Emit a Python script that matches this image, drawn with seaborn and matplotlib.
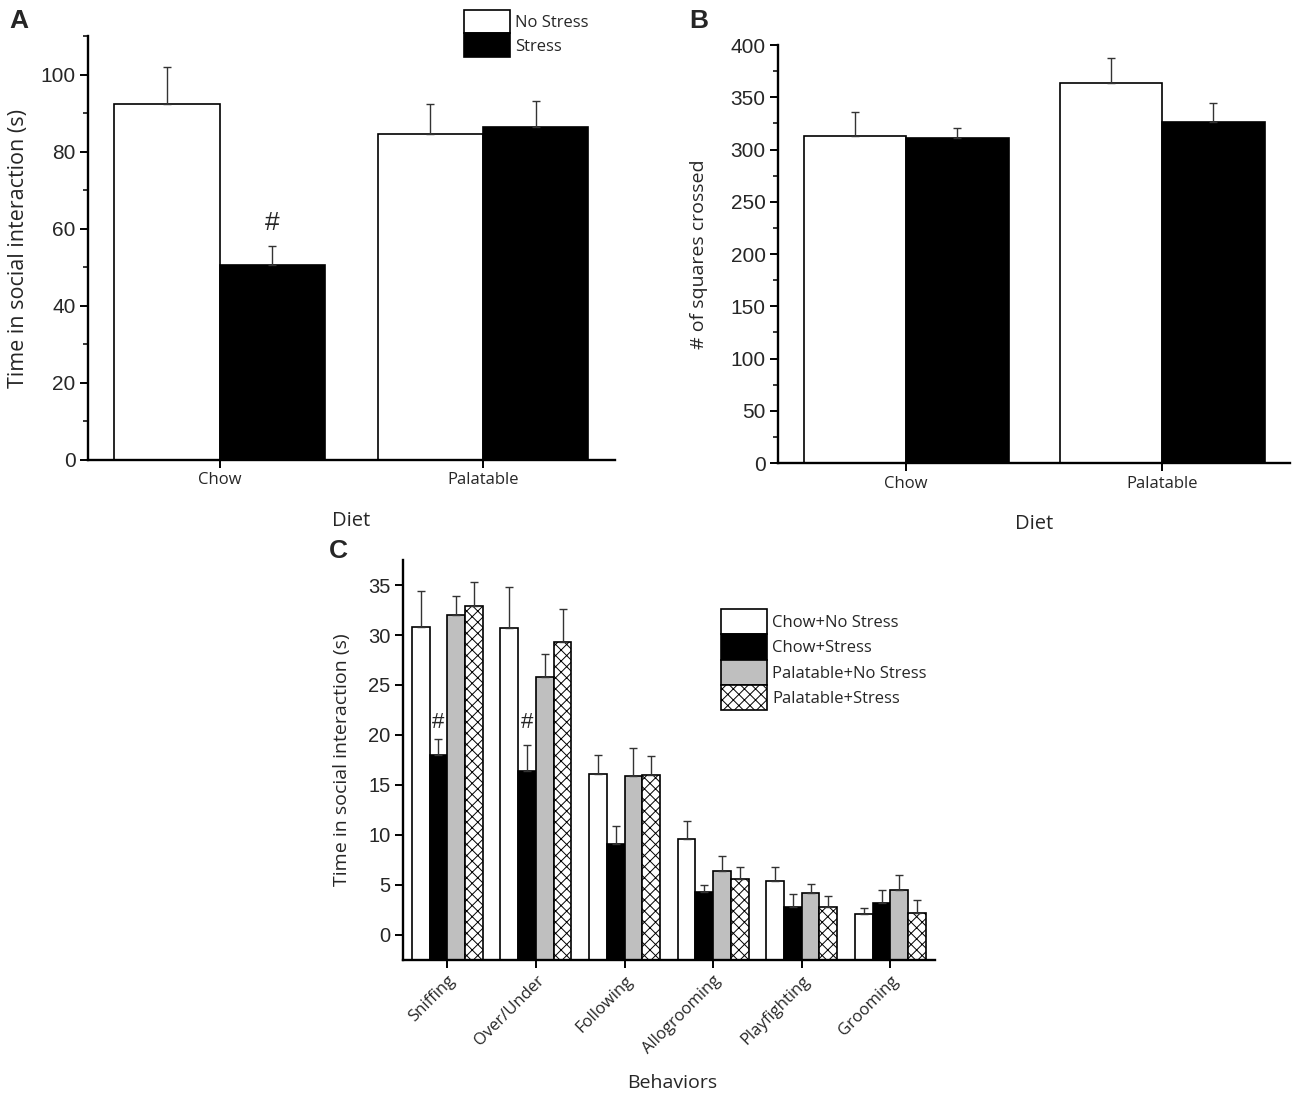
import numpy as np
import pandas as pd
import seaborn as sns
import matplotlib.pyplot as plt
from matplotlib.patches import Patch
from matplotlib.ticker import MultipleLocator

# ---- data ----
diets = ["Chow", "Palatable"]
stress_levels = ["No Stress", "Stress"]

# panel A: time in social interaction (s)
social_mean = {"No Stress": [92.5, 84.5], "Stress": [50.5, 86.5]}
social_err = {"No Stress": [9.6, 8.0], "Stress": [5.0, 6.8]}

# panel B: number of squares crossed
squares_mean = {"No Stress": [313, 364], "Stress": [311, 326]}
squares_err = {"No Stress": [23, 24], "Stress": [10, 19]}

# panel C: time per behaviour (s)
behaviors = ["Sniffing", "Over/Under", "Following", "Allogrooming", "Playfighting", "Grooming"]
groups = ["Chow+No Stress", "Chow+Stress", "Palatable+No Stress", "Palatable+Stress"]
behav_mean = {
    "Chow+No Stress":      [30.8, 30.7, 16.1, 9.6, 5.4, 2.1],
    "Chow+Stress":         [18.0, 16.4, 9.1, 4.3, 2.8, 3.2],
    "Palatable+No Stress": [32.0, 25.8, 15.9, 6.4, 4.2, 4.5],
    "Palatable+Stress":    [32.9, 29.3, 16.0, 5.6, 2.8, 2.2],
}
behav_err = {
    "Chow+No Stress":      [3.6, 4.1, 1.9, 1.8, 1.4, 0.6],
    "Chow+Stress":         [1.6, 2.6, 1.8, 0.7, 1.3, 1.3],
    "Palatable+No Stress": [1.9, 2.3, 2.8, 1.5, 0.9, 1.5],
    "Palatable+Stress":    [2.4, 3.3, 1.9, 1.2, 1.1, 1.3],
}

sns.set_style("ticks")
plt.rcParams["font.family"] = ["Open Sans", "DejaVu Sans"]
plt.rcParams["hatch.linewidth"] = 0.7
NUM_FONT = ["Liberation Sans", "DejaVu Sans"]
ERR_COLOR = "#333333"


def long_table(means, errs, cats, levels, cat_name, hue_name):
    rows = []
    for lev in levels:
        for i, c in enumerate(cats):
            rows.append({cat_name: c, hue_name: lev, "value": means[lev][i], "err": errs[lev][i]})
    return pd.DataFrame(rows)


def add_errorbars(ax, df, levels, hue_name):
    # one-sided SEM bars on top of each bar, placed from the bar patches
    for lev, cont in zip(levels, ax.containers):
        sub = df[df[hue_name] == lev]
        xs = [p.get_x() + p.get_width() / 2 for p in cont.patches]
        ys = sub["value"].values
        ax.errorbar(xs, ys, yerr=[np.zeros(len(ys)), sub["err"].values], fmt="none",
                    ecolor=ERR_COLOR, elinewidth=1.0, capsize=3.2, capthick=1.0, zorder=1)


def style_axis(ax, numsize):
    sns.despine(ax=ax)
    for s in ["left", "bottom"]:
        ax.spines[s].set_linewidth(1.7)
        ax.spines[s].set_color("black")
    ax.tick_params(axis="both", which="major", direction="out", length=5.5, width=1.4, color="black")
    ax.tick_params(axis="y", which="minor", direction="out", length=3.5, width=1.1, color="black")
    for t in ax.get_yticklabels():
        t.set_family(NUM_FONT)
        t.set_fontsize(numsize)


fig = plt.figure(figsize=(13, 11), dpi=100)

# ---------------- panel A ----------------
axA = fig.add_axes([0.0677, 0.582, 0.405, 0.385])
dfA = long_table(social_mean, social_err, diets, stress_levels, "Diet", "Stress")
sns.barplot(data=dfA, x="Diet", y="value", hue="Stress", order=diets, hue_order=stress_levels,
            palette={"No Stress": "white", "Stress": "black"}, edgecolor="black", linewidth=1.2,
            errorbar=None, legend=False, ax=axA)
add_errorbars(axA, dfA, stress_levels, "Stress")
axA.set_ylim(0, 110)
axA.set_xlim(-0.5, 1.5)
axA.yaxis.set_major_locator(MultipleLocator(20))
axA.yaxis.set_minor_locator(MultipleLocator(10))
style_axis(axA, 15)
axA.tick_params(axis="x", labelsize=12)
axA.set_xlabel("Diet", fontsize=14.5)
axA.set_ylabel("Time in social interaction (s)", fontsize=15.5)
axA.xaxis.set_label_coords(0.5, -0.122)
axA.yaxis.set_label_coords(-0.112, 0.5)
chow_stress = axA.containers[1].patches[0]
axA.text(chow_stress.get_x() + chow_stress.get_width() / 2, 58.3, "#",
         ha="center", va="bottom", fontsize=19, family=NUM_FONT)

legA = [Patch(facecolor="white", edgecolor="black", linewidth=1.2, label="No Stress"),
        Patch(facecolor="black", edgecolor="black", linewidth=1.2, label="Stress")]
fig.legend(handles=legA, loc="upper left", bbox_to_anchor=(0.357, 0.991), frameon=False,
           fontsize=12, handlelength=2.75, handleheight=1.8, labelspacing=0.0,
           handletextpad=0.3, borderaxespad=0, borderpad=0)

# ---------------- panel B ----------------
axB = fig.add_axes([0.5985, 0.579, 0.394, 0.380])
dfB = long_table(squares_mean, squares_err, diets, stress_levels, "Diet", "Stress")
sns.barplot(data=dfB, x="Diet", y="value", hue="Stress", order=diets, hue_order=stress_levels,
            palette={"No Stress": "white", "Stress": "black"}, edgecolor="black", linewidth=1.2,
            errorbar=None, legend=False, ax=axB)
add_errorbars(axB, dfB, stress_levels, "Stress")
axB.set_ylim(0, 400)
axB.set_xlim(-0.5, 1.5)
axB.yaxis.set_major_locator(MultipleLocator(50))
axB.yaxis.set_minor_locator(MultipleLocator(25))
style_axis(axB, 15)
axB.tick_params(axis="x", labelsize=12)
axB.set_xlabel("Diet", fontsize=14.5)
axB.set_ylabel("# of squares crossed", fontsize=14)
axB.xaxis.set_label_coords(0.5, -0.122)
axB.yaxis.set_label_coords(-0.137, 0.5)

# ---------------- panel C ----------------
axC = fig.add_axes([0.31, 0.1273, 0.409, 0.3636])
dfC = long_table(behav_mean, behav_err, behaviors, groups, "Behavior", "Group")
fills = {"Chow+No Stress": "white", "Chow+Stress": "black",
         "Palatable+No Stress": "#bfbfbf", "Palatable+Stress": "white"}
sns.barplot(data=dfC, x="Behavior", y="value", hue="Group", order=behaviors, hue_order=groups,
            palette=fills, edgecolor="black", linewidth=1.2, errorbar=None, legend=False, ax=axC)
ybase = -2.5
for cont in axC.containers:
    for p in cont.patches:
        # bars grow from the bottom of the axis, as in the original
        p.set_height(p.get_height() - ybase)
        p.set_y(ybase)
for p in axC.containers[3].patches:
    p.set_hatch("xxx")
add_errorbars(axC, dfC, groups, "Group")
axC.set_ylim(-2.5, 37.5)
axC.set_xlim(-0.5, 5.5)
axC.yaxis.set_major_locator(MultipleLocator(5))
style_axis(axC, 14.5)
axC.set_xticks(range(len(behaviors)))
axC.set_xticklabels(behaviors, rotation=45, ha="right", rotation_mode="anchor", fontsize=12)
axC.set_xlabel("Behaviors", fontsize=14)
axC.set_ylabel("Time in social interaction (s)", fontsize=14)
axC.xaxis.set_label_coords(0.506, -0.285)
axC.yaxis.set_label_coords(-0.098, 0.5)
for idx in range(2):
    p = axC.containers[1].patches[idx]
    axC.text(p.get_x() + p.get_width() / 2, 20.2, "#", ha="center", va="bottom",
             fontsize=16, family=NUM_FONT)

legC = [Patch(facecolor="white", edgecolor="black", linewidth=1.2, label="Chow+No Stress"),
        Patch(facecolor="black", edgecolor="black", linewidth=1.2, label="Chow+Stress"),
        Patch(facecolor="#bfbfbf", edgecolor="black", linewidth=1.2, label="Palatable+No Stress"),
        Patch(facecolor="white", edgecolor="black", linewidth=1.2, hatch="xxx", label="Palatable+Stress")]
axC.legend(handles=legC, loc="upper left", bbox_to_anchor=(0.599, 0.877), frameon=False,
           fontsize=12, handlelength=2.75, handleheight=1.95, labelspacing=0.0,
           handletextpad=0.3, borderaxespad=0, borderpad=0)

# panel letters
for x, y, s in [(0.007, 0.992, "A"), (0.530, 0.992, "B"), (0.253, 0.510, "C")]:
    fig.text(x, y, s, fontsize=19, fontweight="bold", family=NUM_FONT, va="top", ha="left")

fig.savefig("out.png", dpi=100)
